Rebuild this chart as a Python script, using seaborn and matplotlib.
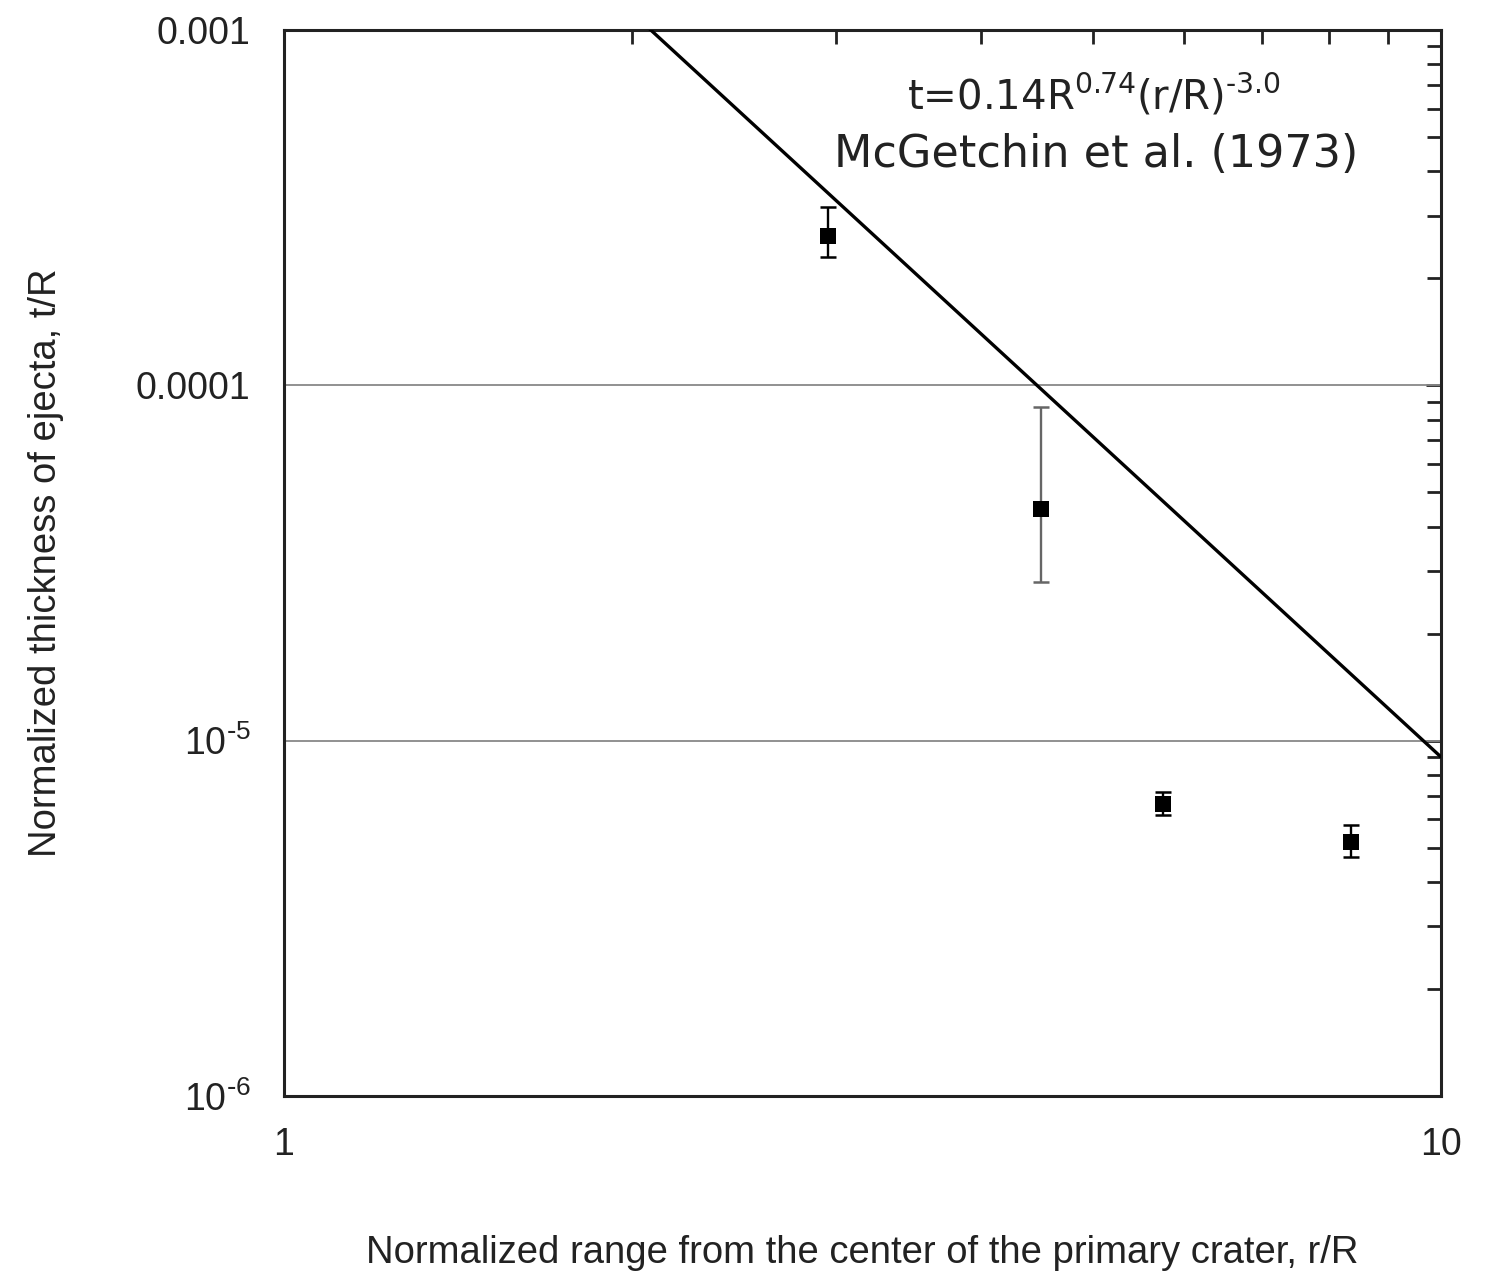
import matplotlib
matplotlib.use("Agg")
import matplotlib.pyplot as plt
import matplotlib.ticker as mticker
import seaborn as sns
import pandas as pd

# data
r_obs = [2.95, 4.51, 5.75, 8.36]
t_obs = [2.63e-4, 4.5e-5, 6.63e-6, 5.19e-6]
t_hi = [3.17e-4, 8.7e-5, 7.17e-6, 5.79e-6]
t_lo = [2.30e-4, 2.8e-5, 6.17e-6, 4.70e-6]
bar_colors = ["black", "#666666", "black", "black"]

# McGetchin et al. (1973) line, end points
fit_r = [1.0, 10.0]
fit_t = [8.9e-3, 9.0e-6]

ytick_vals = [1e-6, 1e-5, 1e-4, 1e-3]
ytick_labels = [r"$\mathregular{10^{\text{-}6}}$", r"$\mathregular{10^{\text{-}5}}$", "0.0001", "0.001"]
xtick_vals = [1, 10]
xtick_labels = ["1", "10"]

sns.set_style("white")
plt.rcParams["font.family"] = ["Liberation Sans", "DejaVu Sans"]

fig = plt.figure(figsize=(14.87, 12.75), dpi=100)
ax = fig.add_axes([0.191, 0.1404, 0.778, 0.8361])

ax.set_xscale("log")
ax.set_yscale("log")
ax.set_xlim(1, 10)
ax.set_ylim(1e-6, 1e-3)

# grey guide lines
for yv in [1e-5, 1e-4]:
    ax.axhline(yv, color="#888888", lw=1.3, zorder=1)

df_fit = pd.DataFrame({"r": fit_r, "t": fit_t})
sns.lineplot(data=df_fit, x="r", y="t", color="black", lw=2.4, ax=ax, zorder=3)

for r, t, hi, lo, c in zip(r_obs, t_obs, t_hi, t_lo, bar_colors):
    ax.errorbar([r], [t], yerr=[[t - lo], [hi - t]], fmt="none", ecolor=c,
                elinewidth=1.7, capsize=6, capthick=1.8, zorder=2)

df_obs = pd.DataFrame({"r": r_obs, "t": t_obs})
sns.scatterplot(data=df_obs, x="r", y="t", marker="s", s=140, color="black",
                edgecolor="black", linewidth=0, ax=ax, zorder=4)

ax.set_yticks(ytick_vals)
ax.set_yticklabels(ytick_labels)
ax.set_xticks(xtick_vals)
ax.set_xticklabels(xtick_labels)
ax.xaxis.set_minor_locator(mticker.LogLocator(base=10, subs=range(2, 10)))
ax.yaxis.set_minor_locator(mticker.LogLocator(base=10, subs=range(2, 10)))
ax.xaxis.set_minor_formatter(mticker.NullFormatter())
ax.yaxis.set_minor_formatter(mticker.NullFormatter())
ax.tick_params(which="both", direction="in", top=True, right=True,
               color="#222222", width=2, labelsize=27, labelcolor="#222222")
ax.tick_params(which="major", length=11)
ax.tick_params(axis="y", which="major", pad=24)
ax.tick_params(axis="x", which="major", pad=22)
ax.tick_params(which="minor", length=10)

for sp in ax.spines.values():
    sp.set_color("#222222")
    sp.set_linewidth(2.2)

ax.set_xlabel("Normalized range from the center of the primary crater, r/R",
              fontsize=27.5, color="#222222", labelpad=52)
ax.set_ylabel("Normalized thickness of ejecta, t/R", fontsize=27.5, color="#222222",
              labelpad=52)

ax.text(0.700, 0.939,
        r"t=0.14R$\mathregular{^{0.74}}$(r/R)$\mathregular{^{\text{-}3.0}}$",
        transform=ax.transAxes, ha="center", va="center", fontsize=29,
        family=["DejaVu Sans"], color="#222222")
ax.text(0.702, 0.883, "McGetchin et al. (1973)", transform=ax.transAxes,
        ha="center", va="center", fontsize=32, family=["DejaVu Sans"], color="#222222")

fig.savefig("out.png", dpi=100)
